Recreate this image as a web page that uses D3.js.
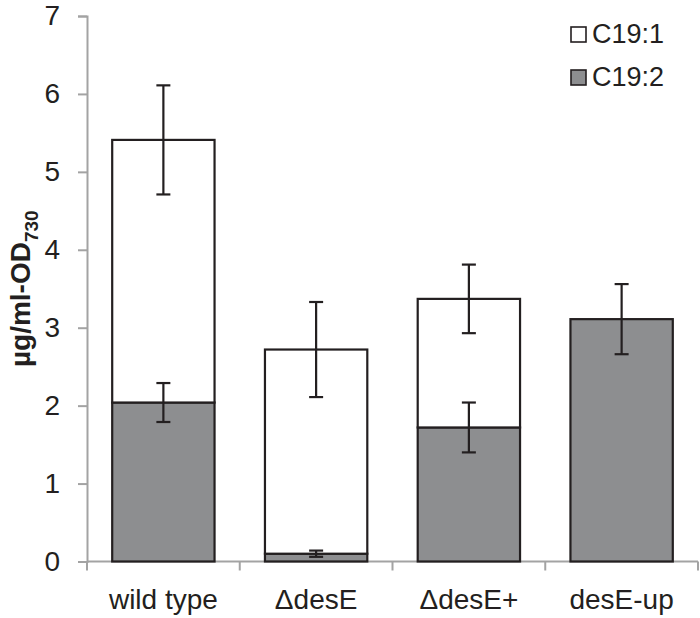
<!DOCTYPE html>
<html>
<head>
<meta charset="utf-8">
<script src="https://cdn.jsdelivr.net/npm/d3@7"></script>
<style>
  html, body { margin: 0; padding: 0; background: #fff; }
  svg { display: block; font-family: "Liberation Sans", Arial, sans-serif; }
</style>
</head>
<body>
<svg id="chart" width="700" height="618"></svg>
<script>
// ---- data ----
const categories = ["wild type", "\u0394desE", "\u0394desE+", "desE-up"];
const c192 = [2.04, 0.10, 1.72, 3.11];        // C19:2 (bottom, grey)
const c192Err = [0.25, 0.04, 0.32, 0.45];
const c191 = [3.37, 2.62, 1.65, 0];           // C19:1 (stacked on top, white)
const c191Err = [0.70, 0.61, 0.44, 0];        // error of the stacked total
const yTicks = [0, 1, 2, 3, 4, 5, 6, 7];
const seriesNames = ["C19:1", "C19:2"];

// ---- layout ----
const svg = d3.select("#chart");
const xLeft = 87, xRight = 698, yBottom = 561.5, yTop = 16;
const axisColor = "#a3a3a3";
const ink = "#231f20";
const grey = "#8d8e90";

const x = d3.scaleBand().domain(categories).range([xLeft, xRight])
  .paddingInner(0.33).paddingOuter(0.165);
const y = d3.scaleLinear().domain([0, 7]).range([yBottom, yTop]);

// y axis
const yAxis = svg.append("g").attr("transform", `translate(${xLeft},0)`)
  .call(d3.axisLeft(y).tickValues(yTicks).tickFormat(d3.format("d")).tickSize(9).tickPadding(18));
yAxis.select(".domain").attr("stroke", axisColor).attr("stroke-width", 2);
yAxis.selectAll(".tick line").attr("stroke", axisColor).attr("stroke-width", 2);
yAxis.selectAll(".tick text").attr("font-size", 28).attr("fill", ink)
  .attr("font-family", "Liberation Sans, Arial, sans-serif");

// x axis (category boundary ticks)
const xg = svg.append("g");
xg.append("line").attr("x1", xLeft).attr("x2", xRight).attr("y1", yBottom).attr("y2", yBottom)
  .attr("stroke", axisColor).attr("stroke-width", 2);
const bounds = categories.map(c => x(c) - x.step() * x.paddingInner() / 2).concat([xRight]);
xg.selectAll("line.tk").data(bounds).join("line").attr("class", "tk")
  .attr("x1", d => d).attr("x2", d => d).attr("y1", yBottom).attr("y2", yBottom + 9)
  .attr("stroke", axisColor).attr("stroke-width", 2);
xg.selectAll("text").data(categories).join("text")
  .attr("x", d => x(d) + x.bandwidth() / 2).attr("y", yBottom + 47)
  .attr("text-anchor", "middle").attr("font-size", 28).attr("fill", ink)
  .text(d => d);

// stacked bars
const stackData = categories.map((c, i) => ({ cat: c, c192: c192[i], c191: c191[i] }));
const stacked = d3.stack().keys(["c192", "c191"])(stackData);
const fills = { c192: grey, c191: "#fff" };
svg.append("g").selectAll("g").data(stacked).join("g")
  .attr("fill", d => fills[d.key])
  .selectAll("rect").data(d => d.filter(s => s[1] - s[0] > 0)).join("rect")
  .attr("x", d => x(d.data.cat)).attr("width", x.bandwidth())
  .attr("y", d => y(d[1])).attr("height", d => y(d[0]) - y(d[1]))
  .attr("stroke", ink).attr("stroke-width", 2.2);

// error bars
const errData = [];
stacked.forEach((layer, li) => {
  const errs = li === 0 ? c192Err : c191Err;
  layer.forEach((s, i) => {
    if (s[1] - s[0] > 0 && errs[i] > 0) errData.push({ cat: s.data.cat, v: s[1], e: errs[i] });
  });
});
const eg = svg.append("g").attr("stroke", ink).attr("stroke-width", 2.2);
errData.forEach(d => {
  const cx = x(d.cat) + x.bandwidth() / 2;
  const hi = y(d.v + d.e), lo = y(d.v - d.e);
  eg.append("line").attr("x1", cx).attr("x2", cx).attr("y1", hi).attr("y2", lo);
  eg.append("line").attr("x1", cx - 7).attr("x2", cx + 7).attr("y1", hi).attr("y2", hi);
  eg.append("line").attr("x1", cx - 7).attr("x2", cx + 7).attr("y1", lo).attr("y2", lo);
});

// y axis title
const title = svg.append("text")
  .attr("transform", `translate(30,${(yTop + yBottom) / 2}) rotate(-90)`)
  .attr("text-anchor", "middle").attr("font-size", 28).attr("font-weight", "bold").attr("fill", ink);
title.append("tspan").text("\u00b5g/ml-OD");
title.append("tspan").attr("font-size", 19).attr("dy", 8).text("730");

// legend
const legend = svg.append("g");
const legFills = ["#fff", grey];
seriesNames.forEach((n, i) => {
  const ly = 27 + i * 43;
  legend.append("rect").attr("x", 571).attr("y", ly).attr("width", 15).attr("height", 15)
    .attr("fill", legFills[i]).attr("stroke", ink).attr("stroke-width", 1.6);
  legend.append("text").attr("x", 592).attr("y", ly + 16).attr("font-size", 27)
    .attr("fill", ink).text(n);
});
</script>
</body>
</html>
